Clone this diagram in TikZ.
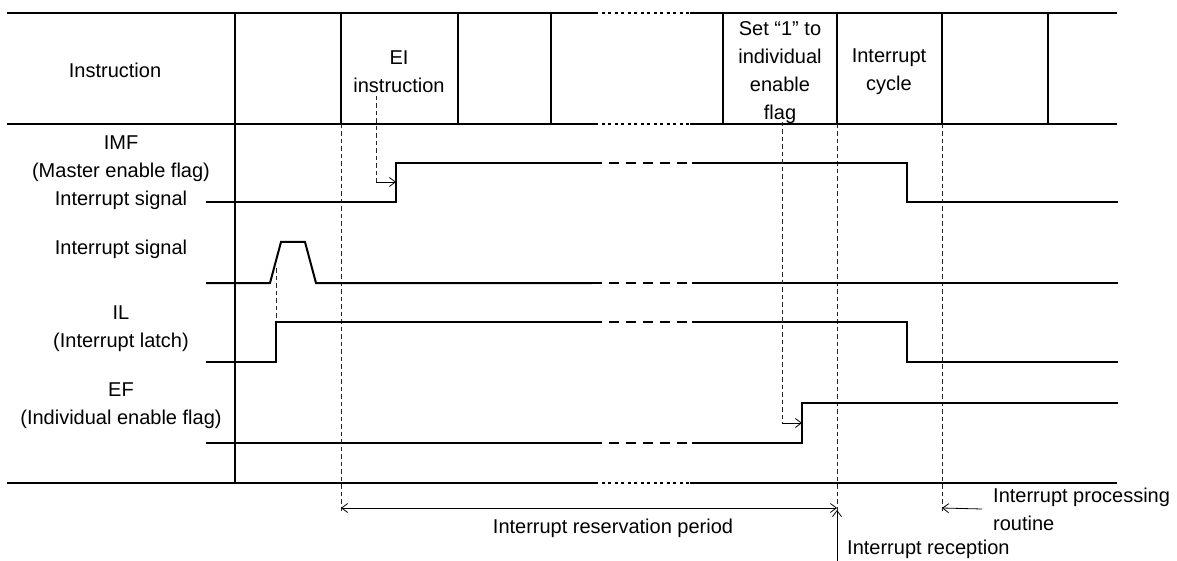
\documentclass[tikz,border=0pt]{standalone}
\usepackage{fontspec}
\setmainfont{Liberation Sans}
\usepackage{tikz}
\usetikzlibrary{arrows.meta, positioning, calc}
\tikzset{
  tabline/.style={line width=1.8pt, color=black},
  tabgap/.style={line width=1.8pt, color=black, dash pattern=on 3pt off 3.5pt},
  wave/.style={line width=2pt, color=black},
  wavegap/.style={line width=2pt, color=black, dash pattern=on 10pt off 7pt},
  marker/.style={line width=0.9pt, color=black!85, dash pattern=on 4.5pt off 3pt},
  lbl/.style={font=\fontsize{20}{28}\selectfont, align=center, inner sep=0pt},
  barb/.style={line width=0.8pt, -{Straight Barb[length=6pt, width=9pt]}},
  dimarrow/.style={line width=0.8pt, {Straight Barb[length=6pt, width=9pt]}-{Straight Barb[length=6pt, width=9pt]}}
}

\begin{document}
\begin{tikzpicture}[x=1pt, y=-1pt]
  \useasboundingbox (0,0) rectangle (1177,561);

  % Table frame
  \draw[tabline] (7,13) -- (595,13);   \draw[tabgap] (595,13) -- (690,13);   \draw[tabline] (690,13) -- (1117,13);
  \draw[tabline] (7,124) -- (595,124); \draw[tabgap] (595,124) -- (690,124); \draw[tabline] (690,124) -- (1117,124);
  \draw[tabline] (7,483) -- (595,483); \draw[tabgap] (595,483) -- (690,483); \draw[tabline] (690,483) -- (1117,483);
  \draw[tabline] (235,13) -- (235,483);
  \foreach \x in {341,458,551,723,837,942,1048}
    \draw[tabline] (\x,13) -- (\x,124);

  % Header texts
  \node[lbl] (instr) at (115,70) {Instruction};
  \node[lbl] (ei) at (399,72) {EI\\instruction};
  \node[lbl] (setone) at (780,73) {Set “1” to\\individual\\enable\\flag};
  \node[lbl] (icycle) at (889,72) {Interrupt\\cycle};

  % Row labels
  \node[lbl] (imf) at (121,173) {IMF\\(Master enable flag)\\Interrupt signal};
  \node[lbl] (isig) at (121,249) {Interrupt signal};
  \node[lbl] (il) at (121,329) {IL\\(Interrupt latch)};
  \node[lbl] (ef) at (121,406) {EF\\(Individual enable flag)};

  % Timing points
  \coordinate (tei) at (341,124);
  \coordinate (trcv) at (837,124);
  \coordinate (tprc) at (942,124);
  \coordinate (mk) at (0,508);
  \coordinate (mkend) at (0,512);
  \foreach \t in {tei,trcv,tprc}
    \draw[marker] (\t) -- (\t |- mkend);

  % IMF
  \draw[wave] (206,202) -- (396,202) -- (396,163) -- (592,163);
  \draw[wavegap] (592,163) -- (692,163);
  \draw[wave] (692,163) -- (907,163) -- (907,202) -- (1118,202);
  \coordinate (eitap) at (376,96);
  \coordinate (imfup) at (396,182);
  \draw[marker] (eitap) -- (eitap |- imfup);
  \draw[barb] (eitap |- imfup) -- (imfup);

  % Interrupt signal
  \draw[wave] (206,283) -- (270,283) -- (281,242) -- (305,242) -- (316,283) -- (592,283);
  \draw[wavegap] (592,283) -- (692,283);
  \draw[wave] (692,283) -- (1118,283);
  \coordinate (pulse) at (276,268);
  \coordinate (ilup) at (276,322);
  \draw[marker] (pulse) -- (ilup);

  % IL
  \draw[wave] (206,362) -- (276,362) -- (276,322) -- (592,322);
  \draw[wavegap] (592,322) -- (692,322);
  \draw[wave] (692,322) -- (907,322) -- (907,362) -- (1118,362);

  % EF
  \draw[wave] (206,443) -- (592,443);
  \draw[wavegap] (592,443) -- (692,443);
  \draw[wave] (692,443) -- (802,443) -- (802,403) -- (1118,403);
  \coordinate (flagtap) at (782,122);
  \coordinate (efup) at (802,423);
  \draw[marker] (flagtap) -- (flagtap |- efup);
  \draw[barb] (flagtap |- efup) -- (efup);

  % Bottom annotations
  \draw[dimarrow] (tei |- mk) -- (trcv |- mk);
  \node[lbl] (resv) at (613,528) {Interrupt reservation period};
  \coordinate (rcvfoot) at (837,561);
  \draw[barb] (rcvfoot) -- ($(trcv |- mk)+(0,2)$);
  \node[lbl, anchor=west] (rcvl) at (847,549) {Interrupt reception};
  \node[lbl, anchor=west, align=left] (prcl) at (993,509) {Interrupt processing\\routine};
  \draw[barb] ([xshift=-11pt]prcl.west) -- (tprc |- mk);
\end{tikzpicture}
\end{document}
